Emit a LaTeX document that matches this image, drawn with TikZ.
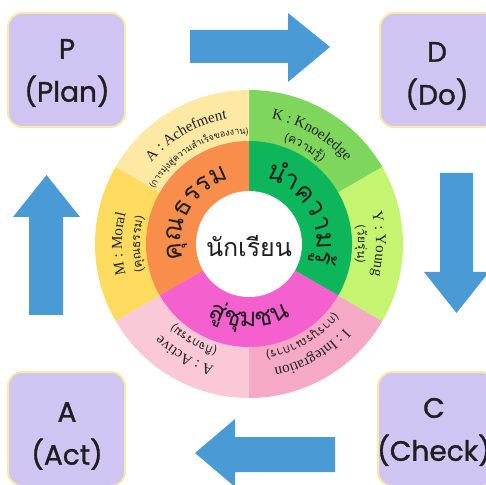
\documentclass[tikz,border=0pt]{standalone}
\usepackage{fontspec}
\usetikzlibrary{decorations.text}
\newfontfamily\thaifont[Script=Thai]{Loma}
\newfontfamily\seriffont{Liberation Serif}
\newfontfamily\boxfont[FakeBold=1.2]{Poppins}
\definecolor{boxfill}{HTML}{D0C5F2}
\definecolor{boxline}{HTML}{F8EAA8}
\definecolor{arrowblue}{HTML}{4A9BD5}
\definecolor{achcol}{HTML}{FDE9A3}
\definecolor{moralcol}{HTML}{FDDB5F}
\definecolor{activecol}{HTML}{FBC8D8}
\definecolor{integcol}{HTML}{F6A9C5}
\definecolor{youngcol}{HTML}{C5F570}
\definecolor{knowcol}{HTML}{7FD65C}
\definecolor{orangemid}{HTML}{F98D4B}
\definecolor{greenmid}{HTML}{0DB65A}
\definecolor{pinkmid}{HTML}{F560CF}
\definecolor{textdark}{HTML}{1F1F1F}
\tikzset{
  pdcabox/.style={draw=boxline, line width=2pt, fill=boxfill, rounded corners=14pt,
    minimum width=117pt, minimum height=114pt, inner sep=0pt},
  boxtext/.style={align=center, text=textdark, font=\boxfont\fontsize{28}{43}\selectfont},
  blockarrow/.style={fill=arrowblue},
  ringtext/.style={decorate, decoration={text along path, text align=center,
    text color=textdark, text={#1}}},
}
\begin{document}
\begin{tikzpicture}[x=1pt,y=1pt]
  \useasboundingbox (0,0) rectangle (486,484);
  \clip (0,0) rectangle (486,484);
  % PDCA boxes
  \node[pdcabox] (planbox) at (66.5,414) {};
  \node[pdcabox] (dobox) at (438.5,414) {};
  \node[pdcabox] (actbox) at (66.5,55) {};
  \node[pdcabox] (checkbox) at (436.5,55) {};
  \node[boxtext] (plantext) at (67,411) {P\\(Plan)};
  \node[boxtext] (dotext) at (437,408) {D\\(Do)};
  \node[boxtext] (acttext) at (67,48) {A\\(Act)};
  \node[boxtext] (checktext) at (434,52) {C\\(Check)};
  % block arrows
  \fill[blockarrow] (190,421) -- (288,421) -- (288,402) -- (330,437) -- (288,471) -- (288,454) -- (190,454) -- cycle;
  \fill[blockarrow] (440,311) -- (440,212) -- (424,212) -- (456.5,171) -- (489,212) -- (473,212) -- (473,311) -- cycle;
  \fill[blockarrow] (335,12) -- (235,12) -- (235,-3) -- (195,31) -- (235,65) -- (235,47) -- (335,47) -- cycle;
  \fill[blockarrow] (29,169) -- (29,267) -- (13,267) -- (46.5,309) -- (80,267) -- (63,267) -- (63,169) -- cycle;
  % wheel
  \begin{scope}[shift={(249,240)}]
    \fill[knowcol] (0,0) -- (30:154) arc[start angle=30, end angle=90, radius=154] -- cycle;
    \fill[achcol] (0,0) -- (90:154) arc[start angle=90, end angle=150, radius=154] -- cycle;
    \fill[moralcol] (0,0) -- (150:154) arc[start angle=150, end angle=210, radius=154] -- cycle;
    \fill[activecol] (0,0) -- (210:154) arc[start angle=210, end angle=270, radius=154] -- cycle;
    \fill[integcol] (0,0) -- (270:154) arc[start angle=270, end angle=330, radius=154] -- cycle;
    \fill[youngcol] (0,0) -- (-30:154) arc[start angle=-30, end angle=30, radius=154] -- cycle;
    \fill[greenmid] (0,0) -- (-30:103) arc[start angle=-30, end angle=90, radius=103] -- cycle;
    \fill[orangemid] (0,0) -- (90:103) arc[start angle=90, end angle=210, radius=103] -- cycle;
    \fill[pinkmid] (0,0) -- (210:103) arc[start angle=210, end angle=330, radius=103] -- cycle;
    \fill[white] (0,0) circle[radius=53];
    \node[font=\thaifont\fontsize{25}{30}\selectfont, text=textdark] (student) at (0,-2) {นักเรียน};
    % outer ring, english
    \path[ringtext={|\seriffont\fontsize{15}{18}\selectfont|A : Achefment}] (165:127) arc[start angle=165, end angle=75, radius=127];
    \path[ringtext={|\seriffont\fontsize{15}{18}\selectfont|K : Knoeledge}] (105:127) arc[start angle=105, end angle=15, radius=127];
    \path[ringtext={|\seriffont\fontsize{15}{18}\selectfont|Y : Young}] (45:127) arc[start angle=45, end angle=-45, radius=127];
    \path[ringtext={|\seriffont\fontsize{15}{18}\selectfont|I : Integration}] (-15:127) arc[start angle=-15, end angle=-105, radius=127];
    \path[ringtext={|\seriffont\fontsize{15}{18}\selectfont|A : Active}] (-75:127) arc[start angle=-75, end angle=-165, radius=127];
    \path[ringtext={|\seriffont\fontsize{15}{18}\selectfont|M : Moral}] (225:127) arc[start angle=225, end angle=135, radius=127];
    % outer ring, thai
    \path[ringtext={|\thaifont\fontsize{9}{11}\selectfont|(การ{มุ่}ง{สู่}ความ{สำ}เ{ร็}จของงาน)}] (165:110) arc[start angle=165, end angle=75, radius=110];
    \path[ringtext={|\thaifont\fontsize{12}{14}\selectfont|(ความ{รู้})}] (105:109) arc[start angle=105, end angle=15, radius=109];
    \path[ringtext={|\thaifont\fontsize{12}{14}\selectfont|({วั}ย{รุ่}น)}] (45:109) arc[start angle=45, end angle=-45, radius=109];
    \path[ringtext={|\thaifont\fontsize{12}{14}\selectfont|(การ{บู}รณาการ)}] (-15:109) arc[start angle=-15, end angle=-105, radius=109];
    \path[ringtext={|\thaifont\fontsize{12}{14}\selectfont|({กิ}จกรรม)}] (-75:109) arc[start angle=-75, end angle=-165, radius=109];
    \path[ringtext={|\thaifont\fontsize{12}{14}\selectfont|({คุ}ณธรรม)}] (225:109) arc[start angle=225, end angle=135, radius=109];
    % middle ring
    \path[ringtext={|\thaifont\fontsize{26}{30}\selectfont|{คุ}ณธรรม}] (210:68) arc[start angle=210, end angle=90, radius=68];
    \path[ringtext={|\thaifont\fontsize{26}{30}\selectfont|{นำ}ความ{รู้}}] (90:68) arc[start angle=90, end angle=-30, radius=68];
    \path[ringtext={|\thaifont\fontsize{26}{30}\selectfont|{สู่}{ชุ}มชน}] (210:83) arc[start angle=210, end angle=330, radius=83];
  \end{scope}
\end{tikzpicture}
\end{document}
